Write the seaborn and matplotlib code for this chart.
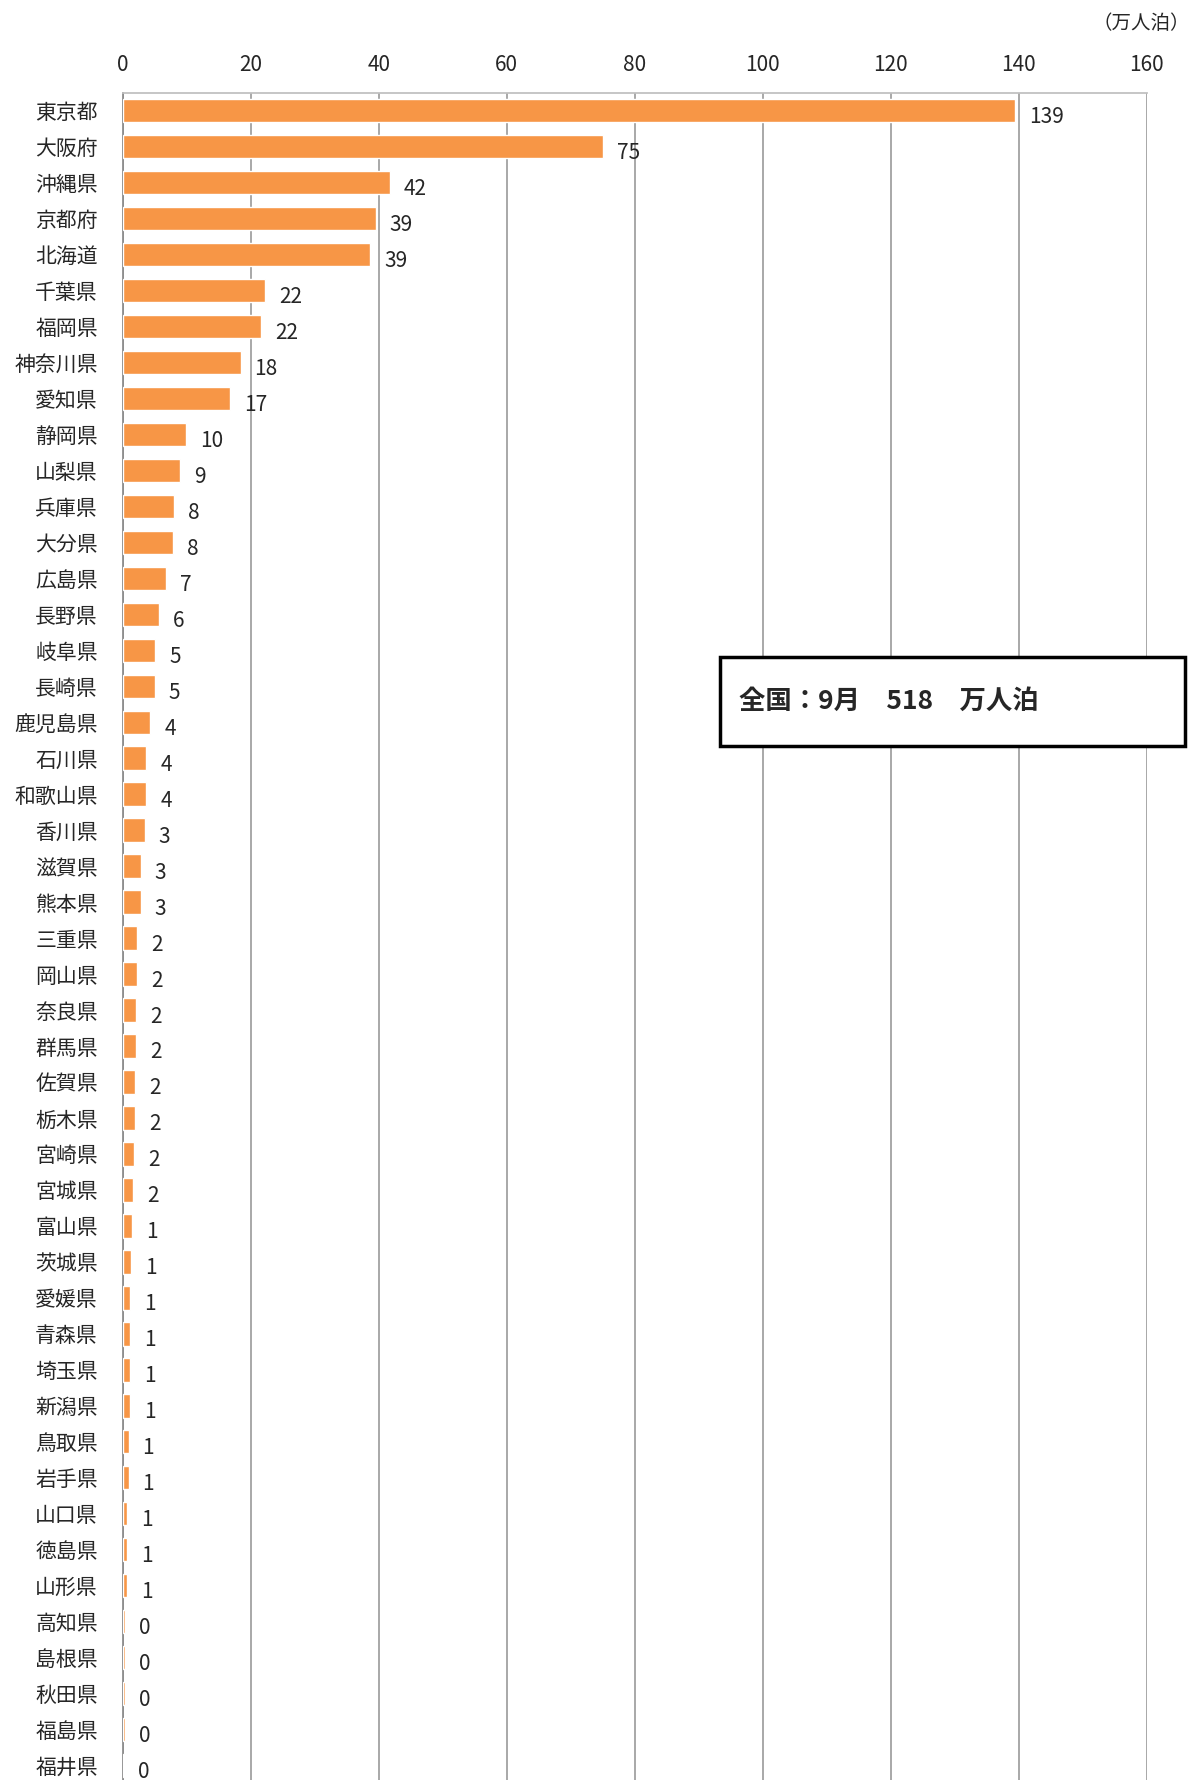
import matplotlib
matplotlib.use("Agg")
import matplotlib.pyplot as plt
import seaborn as sns
import pandas as pd

prefs = ["東京都", "大阪府", "沖縄県", "京都府", "北海道", "千葉県", "福岡県", "神奈川県", "愛知県", "静岡県",
         "山梨県", "兵庫県", "大分県", "広島県", "長野県", "岐阜県", "長崎県", "鹿児島県", "石川県", "和歌山県",
         "香川県", "滋賀県", "熊本県", "三重県", "岡山県", "奈良県", "群馬県", "佐賀県", "栃木県", "宮崎県",
         "宮城県", "富山県", "茨城県", "愛媛県", "青森県", "埼玉県", "新潟県", "鳥取県", "岩手県", "山口県",
         "徳島県", "山形県", "高知県", "島根県", "秋田県", "福島県", "福井県"]
values = [139.4, 75.0, 41.7, 39.5, 38.7, 22.3, 21.6, 18.4, 16.8, 9.9,
          8.9, 8.0, 7.8, 6.7, 5.7, 5.1, 5.0, 4.3, 3.7, 3.7,
          3.4, 2.8, 2.8, 2.3, 2.3, 2.1, 2.1, 1.9, 1.9, 1.8,
          1.6, 1.4, 1.3, 1.2, 1.2, 1.2, 1.1, 0.9, 0.9, 0.6,
          0.6, 0.6, 0.4, 0.4, 0.3, 0.3, 0.2]
labels = [139, 75, 42, 39, 39, 22, 22, 18, 17, 10, 9, 8, 8, 7, 6, 5, 5, 4, 4, 4,
          3, 3, 3, 2, 2, 2, 2, 2, 2, 2, 2, 1, 1, 1, 1, 1, 1, 1, 1, 1, 1, 1, 0, 0, 0, 0, 0]

df = pd.DataFrame({"pref": prefs, "value": values})

sns.set_theme(style="white")
plt.rcParams['font.family'] = ['Noto Sans CJK JP', 'DejaVu Sans']

fig = plt.figure(figsize=(11.92, 17.80), dpi=100)
ax = fig.add_axes([0.103, 0.0, 0.859, 0.948])

sns.barplot(data=df, y="pref", x="value", color="#F79646", saturation=1, width=0.65, ax=ax, zorder=3)

ax.set_xlim(0, 160)
ax.set_ylim(46.4, -0.5)
ax.set_xticks(range(0, 161, 20))
ax.xaxis.tick_top()
ax.tick_params(axis="x", labelsize=15, length=0, pad=12)
ax.tick_params(axis="y", labelsize=15, length=0, pad=18)
ax.set_xlabel("")
ax.set_ylabel("")
ax.grid(axis="x", color="#9a9a9a", linewidth=1.2, zorder=0)
for s in ["right", "bottom"]:
    ax.spines[s].set_visible(False)
ax.spines["top"].set_color("#bfbfbf")
ax.spines["left"].set_color("#8a8a8a")

for i, (v, lab) in enumerate(zip(values, labels)):
    ax.text(v + 2.2, i + 0.18, str(lab), fontsize=15, va="center", ha="left")

fig.text(0.998, 0.987, "（万人泊）", fontsize=14, ha="right", va="center")
fig.patches.append(plt.Rectangle((0.604, 0.581), 0.39, 0.05, transform=fig.transFigure,
                                 facecolor="white", edgecolor="black", linewidth=2.5, zorder=5))
fig.text(0.62, 0.606, "全国：9月　518　万人泊", fontsize=19, fontweight="bold", ha="left", va="center", zorder=6)

fig.savefig("out.png", dpi=100)
